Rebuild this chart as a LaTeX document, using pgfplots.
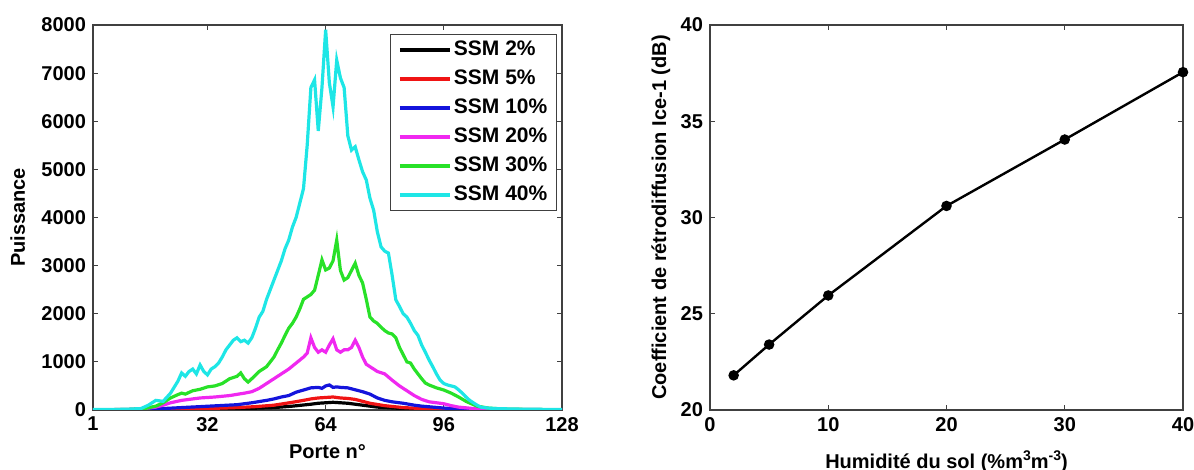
\documentclass[border=0pt]{standalone}
\usepackage{pgfplots}
\pgfplotsset{compat=1.18}
\usepackage{fontspec}
\setmainfont{Liberation Sans}
\definecolor{mcyan}{RGB}{30,230,230}
\definecolor{mgreen}{RGB}{40,225,40}
\definecolor{mmag}{RGB}{240,40,240}
\definecolor{mblue}{RGB}{20,20,220}
\definecolor{mred}{RGB}{240,20,20}
\newcommand{\supx}[1]{\raisebox{0.75ex}{\fontsize{7}{7}\selectfont #1}}
\begin{document}
\begin{tikzpicture}[font=\fontsize{10}{12}\selectfont\bfseries]
\pgfplotsset{every axis/.append style={
  scale only axis, height=192.5pt,
  tick align=inside, major tick length=2.5pt,
  /pgf/number format/assume math mode=true,
  tick label style={font=\fontsize{10}{12}\selectfont\bfseries},
  label style={font=\fontsize{10}{12}\selectfont\bfseries},
  axis line style={black!75, line width=0.6pt},
  tick style={black!75, line width=0.5pt},
}}
\begin{axis}[
  width=234.5pt,
  xmin=1, xmax=128, ymin=0, ymax=8000,
  xtick={1,32,64,96,128},
  ytick={0,1000,...,8000},
  scaled y ticks=false,
  /pgf/number format/1000 sep={},
  xlabel={Porte n°}, ylabel={Puissance},
  xlabel style={at={(axis description cs:0.5,-0.127)}, anchor=base},
  ylabel style={at={(axis description cs:-0.145,0.5)}, anchor=base},
  legend style={at={(0.989,0.977)}, anchor=north east, draw=black!75, line width=0.5pt,
    font=\fontsize{10.5}{12}\selectfont\bfseries, row sep=0pt, inner xsep=3.5pt, inner ysep=0.5pt,
    nodes={text height=7.6pt, text depth=2pt, inner ysep=2.45pt, inner xsep=1pt}},
  legend cell align=left,
  legend image code/.code={\draw[#1, line width=2pt] (0pt,0pt) -- (25pt,0pt);},
  every axis plot/.append style={line width=1.6pt},
]
\addplot[black] coordinates {(1,0) (30,10) (40,25) (50,50) (55,80) (60,120) (62,140) (64,150) (66,160) (68,150) (70,140) (74,100) (78,60) (85,30) (90,15) (100,5) (128,0)};
\addlegendentry{SSM 2\%}
\addplot[mred] coordinates {(1,0) (20,10) (30,25) (40,50) (45,70) (50,100) (55,160) (58,200) (60,230) (62,250) (64,260) (66,270) (68,250) (70,240) (72,220) (74,180) (76,140) (80,90) (85,50) (90,30) (100,10) (128,0)};
\addlegendentry{SSM 5\%}
\addplot[mblue] coordinates {(1,0) (15,10) (20,30) (25,50) (30,70) (35,90) (40,110) (44,150) (48,200) (50,230) (52,270) (54,300) (56,370) (58,415) (60,460) (62,470) (63,450) (64,500) (65,520) (66,470) (67,480) (68,470) (70,460) (72,420) (74,380) (76,330) (78,250) (80,200) (82,170) (85,140) (88,100) (90,80) (93,60) (96,40) (100,20) (110,5) (128,0)};
\addlegendentry{SSM 10\%}
\addplot[mmag] coordinates {(1,5) (10,10) (15,30) (18,60) (20,100) (22,150) (25,200) (28,230) (30,250) (34,270) (38,300) (42,350) (44,380) (46,450) (48,550) (50,650) (52,750) (54,850) (56,975) (58,1100) (59,1180) (60,1500) (61,1300) (62,1200) (63,1250) (64,1200) (65,1350) (66,1480) (67,1250) (68,1200) (69,1250) (70,1250) (71,1300) (72,1450) (73,1300) (74,1100) (75,950) (76,900) (78,800) (80,750) (82,620) (84,500) (86,400) (88,300) (90,220) (92,170) (94,150) (96,130) (98,90) (100,60) (104,30) (110,15) (128,5)};
\addlegendentry{SSM 20\%}
\addplot[mgreen] coordinates {(1,5) (10,10) (15,30) (18,80) (20,150) (22,250) (24,320) (25,350) (26,330) (28,400) (30,430) (32,480) (34,500) (36,550) (38,650) (40,700) (41,770) (42,650) (43,580) (44,650) (46,800) (48,900) (50,1100) (51,1250) (52,1390) (53,1550) (54,1700) (55,1800) (56,1930) (57,2100) (58,2300) (59,2350) (60,2400) (61,2490) (62,2800) (63,3120) (64,2910) (65,2950) (66,3100) (67,3530) (68,2900) (69,2700) (70,2750) (71,2900) (72,3050) (73,2800) (74,2640) (75,2300) (76,1930) (77,1850) (78,1800) (79,1720) (80,1650) (81,1600) (82,1580) (83,1500) (84,1300) (85,1150) (86,1000) (87,975) (88,850) (89,750) (90,650) (91,560) (92,520) (94,460) (96,415) (98,350) (100,270) (102,180) (103,145) (105,80) (108,40) (112,20) (120,10) (128,5)};
\addlegendentry{SSM 30\%}
\addplot[mcyan] coordinates {(1,10) (5,10) (10,15) (14,30) (16,100) (18,200) (20,180) (22,350) (24,600) (25,770) (26,700) (27,800) (28,850) (29,750) (30,935) (31,800) (32,730) (33,850) (34,900) (35,975) (36,1100) (37,1250) (38,1350) (39,1450) (40,1500) (41,1420) (42,1450) (43,1390) (44,1500) (45,1700) (46,1930) (47,2050) (48,2300) (49,2500) (50,2700) (51,2900) (52,3100) (53,3350) (54,3530) (55,3800) (56,4000) (57,4300) (58,4600) (59,5500) (60,6700) (61,6860) (62,5800) (63,6700) (64,7900) (65,6800) (66,6300) (67,7270) (68,6900) (69,6700) (70,5700) (71,5400) (72,5470) (73,5200) (74,4950) (75,4780) (76,4400) (77,4150) (78,3700) (79,3390) (80,3300) (81,3260) (82,2800) (83,2290) (84,2150) (85,2000) (86,1930) (87,1800) (88,1650) (89,1550) (90,1350) (91,1200) (92,1040) (93,900) (94,750) (95,620) (96,550) (97,520) (98,500) (99,480) (100,420) (101,350) (102,270) (103,200) (104,150) (105,100) (106,60) (108,40) (110,30) (115,20) (120,15) (128,10)};
\addlegendentry{SSM 40\%}
\end{axis}
\begin{axis}[
  xshift=308.5pt,
  width=236.5pt,
  xmin=0, xmax=40, ymin=20, ymax=40,
  xtick={0,10,...,40}, ytick={20,25,...,40},
  xlabel={Humidité du sol (\%m\supx{3}m\supx{-3})},
  ylabel={Coefficient de rétrodiffusion Ice-1 (dB)},
  xlabel style={at={(axis description cs:0.5,-0.151)}, anchor=base},
  ylabel style={at={(axis description cs:-0.093,0.5)}, anchor=base},
]
\addplot[black, line width=1.2pt, mark=*, mark size=2pt] coordinates {(2,21.8) (5,23.4) (10,25.95) (20,30.6) (30,34.05) (40,37.55)};
\end{axis}
\pgfresetboundingbox
\path (-46.5pt,-30pt) rectangle (550.5pt,205pt);
\end{tikzpicture}
\end{document}
